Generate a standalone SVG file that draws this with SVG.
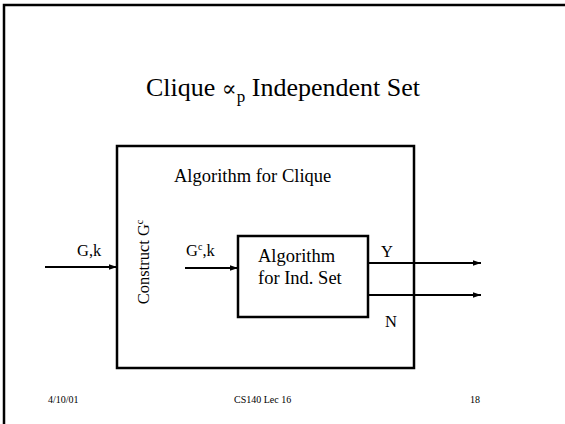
<svg xmlns="http://www.w3.org/2000/svg" width="565" height="424" viewBox="0 0 565 424">
  <style>
    text { font-family: "Liberation Serif", "DejaVu Serif", serif; fill: #000; }
    .box { fill: none; stroke: #000; stroke-width: 2.5; }
    .edge { fill: none; stroke: #000; stroke-width: 2; }
    .frame { fill: none; stroke: #000; stroke-width: 2.5; }
    .title { font-size: 26px; }
    .lbl { font-size: 18.5px; }
    .io { font-size: 16.5px; }
    .foot { font-size: 10px; }
  </style>
  <defs>
    <marker id="arrow" viewBox="0 0 10 10" refX="10" refY="5" markerWidth="4" markerHeight="4" markerUnits="strokeWidth" orient="auto">
      <path d="M0,1.5 L10,5 L0,8.5 z" fill="#000"/>
    </marker>
  </defs>

  <!-- slide frame -->
  <path class="frame" d="M4,424 V5 H565"/>

  <!-- title -->
  <g id="title">
    <text class="title" x="283" y="96" text-anchor="middle">Clique <tspan style="font-family:'DejaVu Serif','Liberation Serif',serif;font-size:22px">∝</tspan><tspan dy="6" font-size="17">p</tspan><tspan dy="-6"> Independent Set</tspan></text>
  </g>

  <!-- outer algorithm -->
  <g id="clique-algorithm">
    <rect class="box" x="117" y="146" width="297" height="222"/>
    <text class="lbl" x="174" y="182">Algorithm for Clique</text>
  </g>

  <!-- transformation step -->
  <g id="construct">
    <text class="io" transform="translate(149,262) rotate(-90)" text-anchor="middle">Construct G<tspan dy="-6" font-size="10">c</tspan></text>
  </g>

  <!-- inner algorithm -->
  <g id="indset-algorithm">
    <rect class="box" x="238" y="236" width="130" height="81"/>
    <text class="lbl" x="258" y="262">Algorithm</text>
    <text class="lbl" x="258" y="284">for Ind. Set</text>
  </g>

  <!-- connectors -->
  <g id="connectors">
    <line class="edge" x1="45" y1="267" x2="117" y2="267" marker-end="url(#arrow)"/>
    <line class="edge" x1="185" y1="268" x2="238" y2="268" marker-end="url(#arrow)"/>
    <line class="edge" x1="368" y1="263" x2="481" y2="263" marker-end="url(#arrow)"/>
    <line class="edge" x1="368" y1="295" x2="481" y2="295" marker-end="url(#arrow)"/>
  </g>

  <!-- connector labels -->
  <g id="labels">
    <text class="io" x="77" y="256">G,k</text>
    <text class="io" x="186" y="256">G<tspan dy="-6" font-size="10">c</tspan><tspan dy="6">,k</tspan></text>
    <text class="io" x="381" y="257">Y</text>
    <text class="io" x="385" y="327">N</text>
  </g>

  <!-- footer -->
  <g id="footer">
    <text class="foot" x="48" y="403">4/10/01</text>
    <text class="foot" x="234" y="403">CS140 Lec 16</text>
    <text class="foot" x="480" y="403" text-anchor="end">18</text>
  </g>
</svg>
